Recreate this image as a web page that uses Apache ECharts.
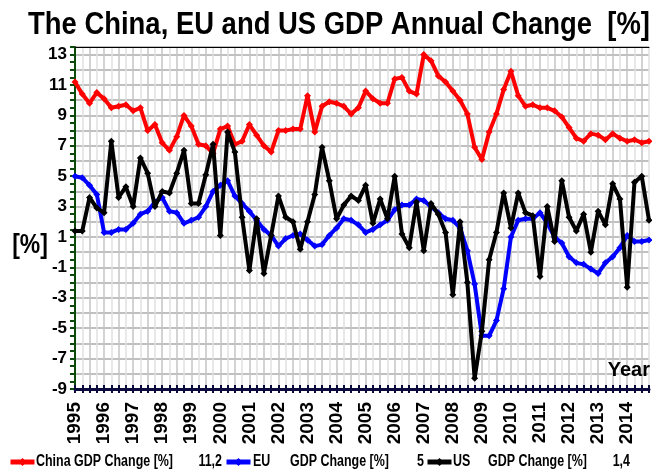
<!DOCTYPE html>
<html><head><meta charset="utf-8">
<script src="https://cdn.jsdelivr.net/npm/echarts@6/dist/echarts.min.js"></script>
<style>html,body{margin:0;padding:0;background:#fff}#c{width:652px;height:470px}</style>
</head><body><div id="c"></div>
<script>
const years = [1995,1996,1997,1998,1999,2000,2001,2002,2003,2004,2005,2006,2007,2008,2009,2010,2011,2012,2013,2014];
const quarterNames = ['Q1','Q2','Q3','Q4'];
const categories = years.flatMap(y => quarterNames.map(q => y + ' ' + q));

const china = [11.2,10.4,9.8,10.5,10.1,9.5,9.6,9.7,9.3,9.5,8.0,8.4,7.2,6.7,7.6,9.0,8.3,7.1,7.0,6.5,
  8.1,8.3,7.1,7.3,8.4,7.7,7.0,6.6,8.0,8.0,8.1,8.1,10.3,7.9,9.6,9.9,9.8,9.6,9.1,9.5,
  10.6,10.1,9.8,9.8,11.4,11.5,10.6,10.4,13.0,12.6,11.6,11.2,10.6,10.0,9.1,6.9,6.1,7.9,9.1,10.7,
  11.9,10.3,9.6,9.7,9.5,9.5,9.3,8.9,8.2,7.5,7.3,7.8,7.7,7.4,7.8,7.5,7.3,7.4,7.2,7.3];
const eu = [5.0,4.9,4.4,3.8,1.3,1.3,1.5,1.5,1.9,2.5,2.7,3.3,3.6,2.7,2.6,1.9,2.1,2.3,3.0,4.0,
  4.4,4.7,3.7,3.2,2.7,2.1,1.5,1.1,0.4,0.9,1.1,1.2,0.8,0.4,0.5,1.1,1.6,2.2,2.1,1.8,
  1.3,1.5,1.8,2.1,2.8,3.1,3.1,3.5,3.4,3.0,2.6,2.2,2.1,1.6,0.1,-2.1,-5.5,-5.5,-4.5,-2.4,
  1.0,2.1,2.2,2.2,2.6,1.9,1.0,0.6,-0.3,-0.7,-0.8,-1.1,-1.4,-0.7,-0.3,0.3,1.1,0.7,0.7,0.8];
const us = [1.4,1.4,3.6,2.9,2.6,7.3,3.6,4.3,3.0,6.2,5.2,3.0,4.0,3.9,5.2,6.7,3.2,3.2,5.1,7.1,
  1.1,7.9,6.6,2.3,-1.2,2.2,-1.4,1.1,3.7,2.3,2.0,0.2,2.0,3.8,6.9,4.7,2.2,3.1,3.7,3.4,
  4.4,1.9,3.5,2.2,5.0,1.2,0.3,3.3,0.1,3.2,2.5,1.3,-2.8,2.0,-2.0,-8.3,-5.2,-0.5,1.3,3.9,
  1.6,3.9,2.6,2.4,-1.6,3.0,0.7,4.7,2.3,1.4,2.5,0.0,2.7,1.8,4.5,3.5,-2.3,4.6,5.0,2.1];

const seriesNames = ['China GDP Change [%]', 'EU GDP Change [%]', 'US GDP Change [%]'];
const legendLabels = ['China', 'EU', 'US'];
const legendValues = ['11,2', '5', '1,4'];
const colors = ['#ff0000', '#0000ff', '#000000'];
const titleText = 'The China, EU and US GDP Annual Change  [%]';

const FONT = '"Liberation Sans", Arial, sans-serif';

const ctx = document.createElement('canvas').getContext('2d');
ctx.font = 'bold 31px "Liberation Sans"';
const titleScale = 622 / ctx.measureText(titleText).width;
ctx.font = 'bold 16px "Liberation Sans"';
const legScale = 137 / ctx.measureText('China GDP Change [%]').width;

const chart = echarts.init(document.getElementById('c'), null, {renderer: 'canvas'});
const seriesData = [china, eu, us];
const legendLefts = [8, 224, 425];

const LEG_Y = 462;
const LEG_FONT = 'bold 16px "Liberation Sans"';
function legText(text, x, align) {
  return {type: 'text', x: x, y: LEG_Y, scaleX: legScale, z: 10,
    style: {text: text, font: LEG_FONT, fill: '#000', verticalAlign: 'middle', align: align}};
}

const option = {
  animation: false,
  backgroundColor: '#ffffff',
  textStyle: {fontFamily: FONT},
  grid: {left: 75, right: 3, top: 47, bottom: 81},
  legend: seriesNames.map((n, i) => ({
    left: legendLefts[i], top: 457, itemWidth: 24, itemHeight: 10, padding: 0,
    lineStyle: {width: 5},
    data: [n], formatter: () => ' ', textStyle: {fontSize: 10}
  })),
  xAxis: [
    {
      type: 'category', data: categories, boundaryGap: false, position: 'bottom',
      axisLine: {onZero: false, lineStyle: {color: '#0a0a3c', width: 3}},
      axisTick: {show: true, interval: 0, length: 4, lineStyle: {color: '#0a0a3c', width: 2}},
      axisLabel: {interval: 3, rotate: 90, margin: 13, formatter: v => v.slice(0, 4),
        color: '#000', fontWeight: 'bold', fontSize: 19, fontFamily: FONT},
      splitLine: {show: true, interval: 0, lineStyle: {color: ['#c4c4c4', '#e0e0e0'], width: 1.5}}
    },
    {
      type: 'category', data: categories, boundaryGap: false, position: 'bottom',
      axisLine: {show: false, onZero: false},
      axisTick: {show: true, inside: true, interval: 0, length: 4, lineStyle: {color: '#0a0a3c', width: 2}},
      axisLabel: {show: false}, splitLine: {show: false}
    },
    {
      type: 'category', data: categories, boundaryGap: false, position: 'top',
      axisLine: {show: true, onZero: false, lineStyle: {color: '#000', width: 1}},
      axisTick: {show: false}, axisLabel: {show: false}, splitLine: {show: false}
    }
  ],
  yAxis: {
    type: 'value', min: -9, max: 13.5, interval: 1,
    axisLine: {show: true, lineStyle: {color: '#0b4a0b', width: 2}},
    axisTick: {show: true, length: 5, lineStyle: {color: '#0b4a0b', width: 2}},
    minorTick: {show: true, splitNumber: 2, length: 5, lineStyle: {color: '#0b4a0b', width: 2}},
    axisLabel: {
      formatter: v => (Number.isInteger(v) && Math.abs(v) % 2 === 1) ? String(v) : '',
      color: '#000', fontWeight: 'bold', fontSize: 17, margin: 8, fontFamily: FONT
    },
    splitLine: {show: true, lineStyle: {color: '#c0c0c0', width: 2}}
  },
  series: seriesData.map((d, i) => ({
    name: seriesNames[i], type: 'line', data: d, xAxisIndex: 0,
    symbol: 'diamond', symbolSize: 7, showSymbol: true, showAllSymbol: true,
    lineStyle: {color: colors[i], width: 4},
    itemStyle: {color: colors[i]},
    z: 3 + i
  })),
  graphic: [
    {type: 'text', x: 28, y: 25, scaleX: titleScale, z: 10,
      style: {text: titleText, font: 'bold 31px "Liberation Sans"', fill: '#000', verticalAlign: 'middle', align: 'left'}},
    {type: 'text', x: 30, y: 246, scaleX: 0.85, z: 10,
      style: {text: '[%]', font: 'bold 27px "Liberation Sans"', fill: '#000', verticalAlign: 'middle', align: 'center'}},
    {type: 'text', x: 650, y: 370, z: 10,
      style: {text: 'Year', font: 'bold 20px "Liberation Sans"', fill: '#000', verticalAlign: 'middle', align: 'right'}},
    legText(legendLabels[0] + ' GDP Change [%]', 36, 'left'),
    legText(legendValues[0], 222, 'right'),
    legText(legendLabels[1], 253, 'left'),
    legText('GDP Change [%]', 290, 'left'),
    legText(legendValues[1], 424, 'right'),
    legText(legendLabels[2], 453, 'left'),
    legText('GDP Change [%]', 488, 'left'),
    legText(legendValues[2], 630, 'right')
  ]
};
chart.setOption(option);
</script>
</body></html>
